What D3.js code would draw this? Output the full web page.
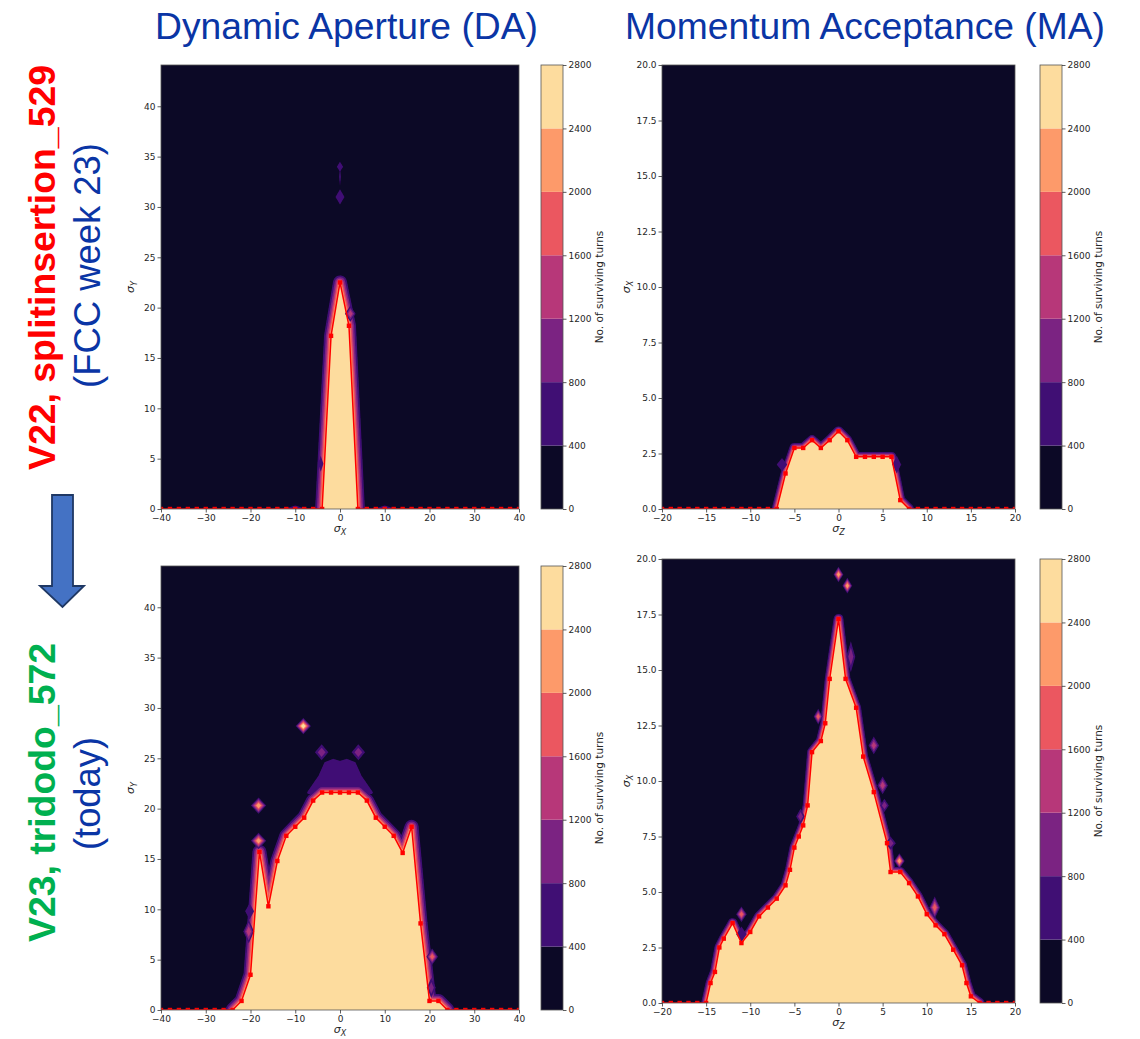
<!DOCTYPE html>
<html>
<head>
<meta charset="utf-8">
<script src="https://cdn.jsdelivr.net/npm/d3@7"></script>
<style>
  body { margin: 0; background: #fff; }
  svg { display: block; }
</style>
</head>
<body>
<svg id="chart" width="1140" height="1039"></svg>
<script>
// contour levels of the colour bar (no. of surviving turns)
const levels = [0, 400, 800, 1200, 1600, 2000, 2400, 2800];

// DA boundary, V22 splitinsertion_529  [sigma_x, sigma_y]
const daV22Boundary = [
  [-40, 0], [-38, 0], [-36, 0], [-34, 0], [-32, 0], [-30, 0], [-28, 0], [-26, 0],
  [-24, 0], [-22, 0], [-20, 0], [-18, 0], [-16, 0], [-14, 0], [-12, 0], [-10, 0],
  [-8, 0], [-6, 0], [-4, 0], [-2, 17.2], [0, 22.5], [2, 18.2], [4, 0], [6, 0],
  [8, 0], [10, 0], [12, 0], [14, 0], [16, 0], [18, 0], [20, 0], [22, 0], [24, 0],
  [26, 0], [28, 0], [30, 0], [32, 0], [34, 0], [36, 0], [38, 0], [40, 0],
];

// DA boundary, V23 tridodo_572
const daV23Boundary = [
  [-40, 0], [-38, 0], [-36, 0], [-34, 0], [-32, 0], [-30, 0], [-28, 0], [-26, 0],
  [-24, 0], [-22, 0.9], [-20, 3.5], [-18, 15.7], [-16, 10.3], [-14, 14.8],
  [-12, 17.3], [-10, 18.2], [-8, 19.1], [-6, 20.8], [-4, 21.6], [-2, 21.6],
  [0, 21.6], [2, 21.6], [4, 21.6], [6, 20.8], [8, 19.1], [10, 18.2], [12, 17.3],
  [14, 15.6], [16, 18.2], [18, 8.6], [20, 0.9], [22, 0.9], [24, 0], [26, 0],
  [28, 0], [30, 0], [32, 0], [34, 0], [36, 0], [38, 0], [40, 0],
];

// MA boundary, V22  [sigma_z, sigma_x]
const maV22Boundary = [
  [-20, 0], [-19, 0], [-18, 0], [-17, 0], [-16, 0], [-15, 0], [-14, 0], [-13, 0],
  [-12, 0], [-11, 0], [-10, 0], [-9, 0], [-8, 0], [-7, 0], [-6, 1.6], [-5, 2.75],
  [-4, 2.75], [-3, 3.1], [-2, 2.75], [-1, 3.1], [0, 3.5], [1, 3.1], [2, 2.35],
  [3, 2.35], [4, 2.35], [5, 2.35], [6, 2.35], [7, 0.4], [8, 0], [9, 0], [10, 0],
  [11, 0], [12, 0], [13, 0], [14, 0], [15, 0], [16, 0], [17, 0], [18, 0], [19, 0],
  [20, 0],
];

// MA boundary, V23
const maV23Boundary = [
  [-20, 0], [-19, 0], [-18, 0], [-17, 0], [-16, 0], [-15, 0], [-14.5, 0.9],
  [-14, 1.4], [-13.5, 2.5], [-13, 2.9], [-12, 3.6], [-11, 2.7], [-10, 3.2],
  [-9, 3.9], [-8, 4.3], [-7, 4.7], [-6, 5.3], [-5.5, 6.0], [-5, 7.0], [-4.5, 7.5],
  [-4, 8.0], [-3.5, 8.9], [-3, 11.3], [-2, 11.8], [-1.5, 12.6], [-1, 14.6],
  [0, 17.3], [0.8, 14.6], [2, 13.3], [2.8, 11.1], [4, 9.5], [5.5, 7.2], [5.9, 5.9],
  [7, 5.9], [8, 5.4], [9, 4.8], [10, 4.0], [11, 3.5], [12, 3.1], [13, 2.4],
  [14, 1.7], [14.5, 0.9], [15, 0.3], [16, 0], [17, 0], [18, 0], [19, 0], [20, 0],
];

// isolated stable spots: [x, y, half-width, half-height, highest level index]
const daV22Islands = [
  [0, 31, 1.0, 0.75, 1], [0, 34, 0.7, 0.5, 1], [0, 33, 0.2, 0.9, 1],
  [-10, 0, 2.5, 0.35, 1], [10, 0, 2.5, 0.35, 1], [2.3, 19.4, 1.2, 0.8, 3],
  [-4.3, 4.5, 0.6, 0.8, 1],
];
const daV23Islands = [
  [-8.2, 28.2, 1.7, 0.8, 6], [-4.1, 25.6, 1.5, 0.8, 2], [4.1, 25.6, 1.5, 0.8, 2],
  [-18.2, 20.3, 1.7, 0.8, 5], [-18.2, 16.8, 1.7, 0.8, 5], [-20.4, 7.8, 1.2, 1.2, 3],
  [-20.2, 9.8, 1.0, 0.8, 1], [20.6, 5.3, 1.3, 0.8, 4], [20.4, 2.2, 1.0, 1.0, 2],
];
const maV22Islands = [
  [-6.4, 2.0, 0.6, 0.3, 1], [6.6, 2.0, 0.5, 0.4, 1],
];
const maV23Islands = [
  [0, 19.3, 0.55, 0.35, 5], [1.0, 18.8, 0.55, 0.35, 5], [1.4, 15.6, 0.5, 0.7, 2],
  [-2.3, 12.9, 0.5, 0.35, 4], [4.0, 11.6, 0.6, 0.4, 3], [5.0, 9.8, 0.6, 0.4, 3],
  [5.2, 8.9, 0.5, 0.3, 2], [5.9, 7.2, 0.6, 0.3, 2], [6.9, 6.4, 0.6, 0.35, 5],
  [-11, 4.0, 0.6, 0.35, 4], [10.9, 4.3, 0.6, 0.5, 4], [-4.3, 8.4, 0.5, 0.35, 2],
  [-11, 3.1, 0.6, 0.35, 1],
];

// purple plume above the V23 DA core
const daV23Plume = [
  [-7, 21.6], [-4.5, 23.2], [-3.2, 24.5], [-1.5, 24.8], [0, 24.6], [1.5, 24.8],
  [3.2, 24.5], [4.5, 23.2], [7, 21.6],
];

const daXTicks = [-40, -30, -20, -10, 0, 10, 20, 30, 40];
const daYTicks = [0, 5, 10, 15, 20, 25, 30, 35, 40];
const maXTicks = [-20, -15, -10, -5, 0, 5, 10, 15, 20];
const maYTicks = [0, 2.5, 5, 7.5, 10, 12.5, 15, 17.5, 20];

const colors = d3.range(levels.length - 1).map((i) =>
  d3.interpolateMagma((i + 0.5) / (levels.length - 1)),
);

const svg = d3.select("#chart");
const tickFont = "DejaVu Sans, sans-serif";

// soften the contour edges a little, like the screenshot
svg.append("defs").append("filter").attr("id", "soft")
  .append("feGaussianBlur").attr("stdDeviation", 0.7);

const panels = [
  {
    id: "daV22", left: 161, top: 65, right: 519, bottom: 509,
    xDomain: [-40, 40], yDomain: [0, 44.1], xTicks: daXTicks, yTicks: daYTicks,
    yFormat: d3.format("d"), xLab: "X", yLab: "Y", yLabOff: 27, xLabOff: 23,
    boundary: daV22Boundary, islands: daV22Islands, halo: 1, cbLeft: 541,
  },
  {
    id: "maV22", left: 662, top: 65, right: 1015, bottom: 509,
    xDomain: [-20, 20], yDomain: [0, 20], xTicks: maXTicks, yTicks: maYTicks,
    yFormat: d3.format(".1f"), xLab: "Z", yLab: "X", yLabOff: 32, xLabOff: 23,
    boundary: maV22Boundary, islands: maV22Islands, halo: 0.7, cbLeft: 1040,
  },
  {
    id: "daV23", left: 161, top: 566, right: 519, bottom: 1010,
    xDomain: [-40, 40], yDomain: [0, 44.1], xTicks: daXTicks, yTicks: daYTicks,
    yFormat: d3.format("d"), xLab: "X", yLab: "Y", yLabOff: 27, xLabOff: 23,
    boundary: daV23Boundary, islands: daV23Islands, plume: daV23Plume, halo: 1,
    cbLeft: 541,
  },
  {
    id: "maV23", left: 662, top: 559, right: 1015, bottom: 1003,
    xDomain: [-20, 20], yDomain: [0, 20], xTicks: maXTicks, yTicks: maYTicks,
    yFormat: d3.format(".1f"), xLab: "Z", yLab: "X", yLabOff: 32, xLabOff: 23,
    boundary: maV23Boundary, islands: maV23Islands, halo: 0.7, cbLeft: 1040,
  },
];

function sigmaLabel(sel, sub) {
  sel.append("tspan").attr("font-style", "italic").attr("font-size", 11).text("σ");
  sel.append("tspan").attr("font-style", "italic").attr("font-size", 8)
    .attr("dy", 3).text(sub);
}

function drawPanel(p) {
  const x = d3.scaleLinear().domain(p.xDomain).range([p.left, p.right]);
  const y = d3.scaleLinear().domain(p.yDomain).range([p.bottom, p.top]);
  const g = svg.append("g");

  g.append("clipPath").attr("id", "clip-" + p.id)
    .append("rect")
    .attr("x", p.left).attr("y", p.top)
    .attr("width", p.right - p.left).attr("height", p.bottom - p.top);

  const plot = g.append("g").attr("clip-path", `url(#clip-${p.id})`);

  plot.append("rect")
    .attr("x", p.left).attr("y", p.top)
    .attr("width", p.right - p.left).attr("height", p.bottom - p.top)
    .attr("fill", colors[0]);

  const field = plot.append("g").attr("filter", "url(#soft)");

  // stable core: boundary trimmed to where it leaves zero, closed below the axis
  const pts = p.boundary;
  const first = Math.max(0, pts.findIndex((d) => d[1] > 0) - 1);
  let last = pts.length - 1;
  while (last > 0 && pts[last - 1][1] <= 0) last--;
  const core = pts.slice(first, last + 1);
  const below = p.yDomain[0] - (p.yDomain[1] - p.yDomain[0]) * 0.05;
  const poly = core.concat([[core[core.length - 1][0], below], [core[0][0], below]]);
  const polyLine = d3.line().x((d) => x(d[0])).y((d) => y(d[1]));

  if (p.plume) {
    field.append("path")
      .attr("d", polyLine(p.plume) + "Z")
      .attr("fill", colors[1])
      .attr("stroke", colors[1])
      .attr("stroke-width", 3)
      .attr("stroke-linejoin", "round");
  }

  const rings = [[1, 14], [2, 10.5], [3, 7.5], [4, 5], [5, 2.6]];
  rings.forEach(([lvl, w]) => {
    field.append("path")
      .attr("d", polyLine(poly) + "Z")
      .attr("fill", "none")
      .attr("stroke", colors[lvl])
      .attr("stroke-width", w * p.halo)
      .attr("stroke-linejoin", "round");
  });
  field.append("path")
    .attr("d", polyLine(poly) + "Z")
    .attr("fill", colors[6]);

  // islands as nested diamonds
  p.islands.forEach(([cx, cy, rx, ry, peak]) => {
    const px = x(cx), py = y(cy);
    const w = x(cx + rx) - px, h = py - y(cy + ry);
    for (let k = 1; k <= peak; k++) {
      const f = 1 - ((k - 1) / peak) * 0.85;
      field.append("path")
        .attr("d", `M${px - w * f},${py}L${px},${py - h * f}L${px + w * f},${py}L${px},${py + h * f}Z`)
        .attr("fill", colors[k]);
    }
  });

  // red DA/MA line with markers
  plot.append("path")
    .attr("d", polyLine(pts))
    .attr("fill", "none")
    .attr("stroke", "#ff0000")
    .attr("stroke-width", 1.5);
  plot.selectAll(".mk").data(pts).enter().append("rect")
    .attr("x", (d) => x(d[0]) - 2.2)
    .attr("y", (d) => y(d[1]) - 2.2)
    .attr("width", 4.4).attr("height", 4.4)
    .attr("fill", "#ff0000");

  g.append("rect")
    .attr("x", p.left).attr("y", p.top)
    .attr("width", p.right - p.left).attr("height", p.bottom - p.top)
    .attr("fill", "none").attr("stroke", "#555").attr("stroke-width", 0.8);

  const xAxis = g.append("g")
    .attr("transform", `translate(0,${p.bottom})`)
    .call(d3.axisBottom(x).tickValues(p.xTicks).tickSize(3.5).tickPadding(2));
  const yAxis = g.append("g")
    .attr("transform", `translate(${p.left},0)`)
    .call(d3.axisLeft(y).tickValues(p.yTicks).tickSize(3.5).tickPadding(2)
      .tickFormat(p.yFormat));
  [xAxis, yAxis].forEach((a) => {
    a.select(".domain").remove();
    a.selectAll("line").attr("stroke", "#333").attr("stroke-width", 0.8);
    a.selectAll("text").attr("fill", "#262626").attr("font-size", 9)
      .attr("font-family", tickFont);
  });

  const xl = g.append("text")
    .attr("x", (p.left + p.right) / 2).attr("y", p.bottom + p.xLabOff)
    .attr("text-anchor", "middle").attr("font-family", tickFont).attr("fill", "#262626");
  sigmaLabel(xl, p.xLab);
  const yl = g.append("text")
    .attr("transform", `translate(${p.left - p.yLabOff},${(p.top + p.bottom) / 2}) rotate(-90)`)
    .attr("text-anchor", "middle").attr("font-family", tickFont).attr("fill", "#262626");
  sigmaLabel(yl, p.yLab);

  // colour bar
  const cbW = 22;
  const cy = d3.scaleLinear().domain([levels[0], levels[levels.length - 1]])
    .range([p.bottom, p.top]);
  const cb = g.append("g");
  cb.selectAll("rect").data(d3.range(levels.length - 1)).enter().append("rect")
    .attr("x", p.cbLeft)
    .attr("y", (i) => cy(levels[i + 1]))
    .attr("width", cbW)
    .attr("height", (i) => cy(levels[i]) - cy(levels[i + 1]))
    .attr("fill", (i) => colors[i]);
  cb.append("rect")
    .attr("x", p.cbLeft).attr("y", p.top)
    .attr("width", cbW).attr("height", p.bottom - p.top)
    .attr("fill", "none").attr("stroke", "#555").attr("stroke-width", 0.8);
  const cbAxis = cb.append("g")
    .attr("transform", `translate(${p.cbLeft + cbW},0)`)
    .call(d3.axisRight(cy).tickValues(levels).tickSize(3.5).tickPadding(2)
      .tickFormat(d3.format("d")));
  cbAxis.select(".domain").remove();
  cbAxis.selectAll("line").attr("stroke", "#333").attr("stroke-width", 0.8);
  cbAxis.selectAll("text").attr("fill", "#262626").attr("font-size", 9)
    .attr("font-family", tickFont);
  cb.append("text")
    .attr("transform", `translate(${p.cbLeft + cbW + 40},${(p.top + p.bottom) / 2}) rotate(-90)`)
    .attr("text-anchor", "middle")
    .attr("font-family", tickFont).attr("font-size", 10.5).attr("fill", "#262626")
    .text("No. of surviving turns");
}

panels.forEach(drawPanel);

// slide titles and row labels
const blue = "#0a35a5";
const titleFont = "Liberation Sans, Arial, sans-serif";
svg.append("text").attr("x", 155).attr("y", 39)
  .attr("font-family", titleFont).attr("font-size", 37).attr("fill", blue)
  .attr("textLength", 383).attr("lengthAdjust", "spacingAndGlyphs")
  .text("Dynamic Aperture (DA)");
svg.append("text").attr("x", 625).attr("y", 39)
  .attr("font-family", titleFont).attr("font-size", 37).attr("fill", blue)
  .attr("textLength", 480).attr("lengthAdjust", "spacingAndGlyphs")
  .text("Momentum Acceptance (MA)");

const rowLabels = [
  { text: "V22, splitinsertion_529", x: 55, y: 470, len: 405, color: "#ff0000", bold: true },
  { text: "(FCC week 23)", x: 100, y: 388, len: 245, color: blue, bold: false },
  { text: "V23, tridodo_572", x: 55, y: 942, len: 299, color: "#00b050", bold: true },
  { text: "(today)", x: 100, y: 850, len: 113, color: blue, bold: false },
];
rowLabels.forEach((r) => {
  svg.append("text")
    .attr("transform", `translate(${r.x},${r.y}) rotate(-90)`)
    .attr("font-family", titleFont).attr("font-size", 37)
    .attr("font-weight", r.bold ? "bold" : "normal")
    .attr("fill", r.color)
    .attr("textLength", r.len).attr("lengthAdjust", "spacingAndGlyphs")
    .text(r.text);
});

// down arrow between the two rows
svg.append("path")
  .attr("d", "M52,495L73,495L73,586L84,586L62.5,607L40,586L52,586Z")
  .attr("fill", "#4472c4")
  .attr("stroke", "#1f3864")
  .attr("stroke-width", 1.8)
  .attr("stroke-linejoin", "miter");
</script>
</body>
</html>
